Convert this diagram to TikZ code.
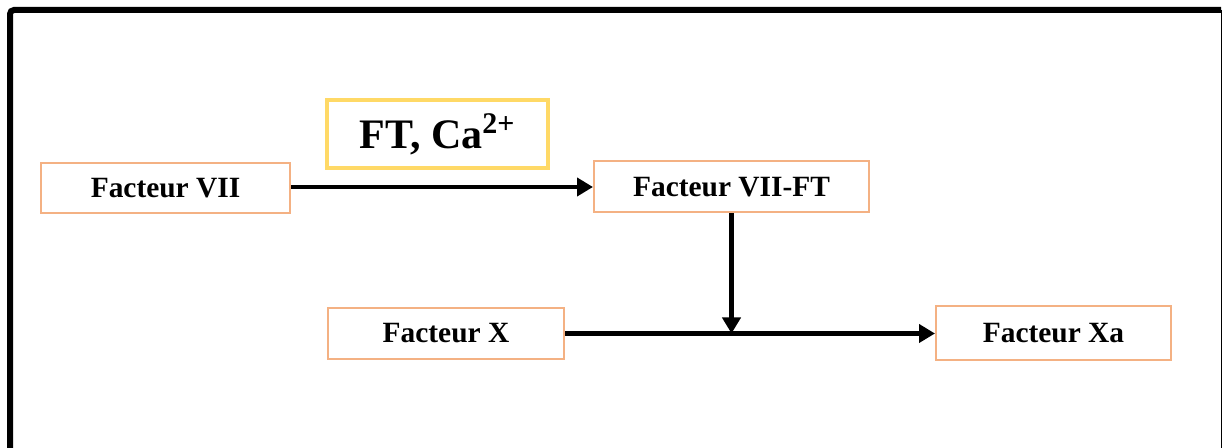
\documentclass[tikz,border=0pt]{standalone}
\usepackage{fontspec}
\setmainfont{Liberation Serif}
\usetikzlibrary{arrows.meta}
\definecolor{saumon}{HTML}{F4B183}
\definecolor{jaune}{HTML}{FFD966}
\tikzset{
  facteur/.style={draw=saumon, line width=1pt, inner sep=0pt,
    font=\fontsize{14.7}{17}\selectfont\bfseries},
  cofacteur/.style={draw=jaune, line width=2pt, inner sep=0pt,
    font=\fontsize{21}{25}\selectfont\bfseries},
  fleche/.style={line width=2.3pt, -{Triangle[length=8pt,width=9pt]}}
}
\begin{document}
\begin{tikzpicture}[x=0.5pt,y=-0.5pt]
\useasboundingbox (0,0) rectangle (1223,448);
%\draw[step=50,gray,very thin] (0,0) grid (1223,448);
% cadre
\draw[line width=3pt, rounded corners=2pt] (10,448) -- (10,10) -- (1221,10);
\draw[line width=0.8pt] (1221.5,10) -- (1221.5,448);
% boites
\node[facteur, minimum width=124.5pt, minimum height=25pt] (f7) at (165.5,188) {Facteur VII};
\node[facteur, minimum width=137.5pt, minimum height=25.5pt] (f7ft) at (731.5,187) {Facteur VII-FT};
\node[facteur, minimum width=118pt, minimum height=25.5pt] (fx) at (446,333.5) {Facteur X};
\node[facteur, minimum width=117.5pt, minimum height=27pt] (fxa) at (1053.5,333.5) {Facteur Xa};
\node[cofacteur, minimum width=110.5pt, minimum height=34pt] (ft) at (437.5,134) {FT, Ca\textsuperscript{\fontsize{15}{17}\selectfont 2+}};
% fleches
\draw[fleche] (f7.east |- f7ft.west) -- (f7ft.west);
\draw[fleche] (fx.east) -- (fxa.west);
\coordinate (jonction) at (f7ft.south |- fx.east);
\draw[fleche] (f7ft.south) -- (jonction);
\end{tikzpicture}
\end{document}
